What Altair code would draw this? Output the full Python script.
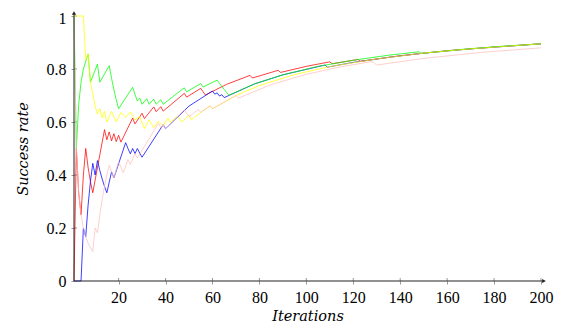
import altair as alt
import pandas as pd

# ---------------- data ----------------
red_x = [1, 2, 3, 4, 5, 6, 7, 8, 9, 14, 15, 16, 17, 18, 19, 20, 21, 26, 27, 30, 31, 35, 36, 38, 39,
         48, 49, 55, 56, 57, 66, 76, 77, 88, 89, 100, 110, 111, 122, 123, 140, 160, 180, 200]
red_y = [0, 0.5, 0.333, 0.25, 0.4, 0.5, 0.429, 0.375, 0.333, 0.571, 0.533, 0.5625, 0.529, 0.556, 0.526,
         0.55, 0.524, 0.615, 0.593, 0.633, 0.613, 0.657, 0.639, 0.658, 0.641, 0.708, 0.694, 0.727, 0.714,
         0.702, 0.742, 0.776, 0.766, 0.795, 0.787, 0.81, 0.827, 0.82, 0.836, 0.829, 0.85, 0.869, 0.883, 0.895]

green_x = [1, 2, 3, 4, 5, 7, 8, 11, 12, 16, 17, 18, 19, 20, 26, 27, 28, 29, 30, 32, 33, 35, 36, 38, 39,
           48, 49, 55, 56, 62, 63, 64, 65, 66, 67, 78, 90, 105, 120, 135, 148, 149, 165, 182, 200]
green_y = [1, 0.5, 0.667, 0.75, 0.8, 0.857, 0.75, 0.818, 0.75, 0.8125, 0.765, 0.722, 0.684, 0.65, 0.731,
           0.704, 0.679, 0.69, 0.667, 0.688, 0.667, 0.686, 0.667, 0.684, 0.667, 0.729, 0.714, 0.745, 0.732,
           0.758, 0.746, 0.734, 0.723, 0.712, 0.701, 0.744, 0.778, 0.81, 0.833, 0.852, 0.865, 0.859, 0.873,
           0.885, 0.895]

blue_x = [1, 4, 5, 6, 7, 8, 9, 10, 11, 12, 13, 14, 15, 17, 18, 23, 24, 25, 26, 27, 28, 29, 30, 39, 40,
          50, 60, 61, 62, 63, 64, 65, 78, 90, 108, 109, 120, 135, 150, 170, 200]
blue_y = [0, 0, 0.2, 0.167, 0.286, 0.375, 0.444, 0.4, 0.4545, 0.417, 0.385, 0.357, 0.333, 0.412, 0.389,
          0.522, 0.5, 0.48, 0.5, 0.481, 0.5, 0.483, 0.467, 0.59, 0.575, 0.66, 0.717, 0.705, 0.71, 0.698,
          0.703, 0.692, 0.744, 0.778, 0.815, 0.807, 0.825, 0.844, 0.86, 0.876, 0.895]

yellow_x = [1, 5, 6, 7, 8, 10, 11, 12, 13, 14, 15, 17, 19, 21, 23, 25, 27, 29, 31, 33, 35, 37, 39, 41,
            42, 45, 47, 50, 51, 55, 59, 60, 70, 80, 95, 110, 130, 150, 170, 200]
yellow_y = [1, 1, 0.833, 0.857, 0.75, 0.66, 0.63, 0.65, 0.615, 0.64, 0.6, 0.64, 0.6, 0.636, 0.617, 0.638,
            0.608, 0.62, 0.575, 0.608, 0.578, 0.603, 0.585, 0.615, 0.598, 0.622, 0.6, 0.626, 0.608, 0.636,
            0.661, 0.65, 0.7, 0.7375, 0.779, 0.809, 0.838, 0.86, 0.876, 0.895]

pink_x = [1, 2, 3, 4, 5, 6, 7, 8, 9, 10, 11, 12, 13, 14, 15, 16, 17, 18, 20, 21, 22, 24, 25, 27, 28,
          37, 38, 39, 40, 48, 49, 50, 54, 55, 59, 60, 70, 71, 85, 100, 115, 128, 129, 130, 150, 175, 200]
pink_y = [1, 0.5, 0.333, 0.25, 0.2, 0.167, 0.143, 0.125, 0.111, 0.2, 0.182, 0.25, 0.308, 0.357, 0.4,
          0.4375, 0.412, 0.389, 0.45, 0.429, 0.409, 0.458, 0.44, 0.481, 0.464, 0.595, 0.579, 0.59, 0.575,
          0.646, 0.633, 0.62, 0.648, 0.636, 0.661, 0.65, 0.7, 0.69, 0.741, 0.78, 0.809, 0.828, 0.822,
          0.815, 0.84, 0.863, 0.88]

x_ticks = [20, 40, 60, 80, 100, 120, 140, 160, 180, 200]
y_ticks = [0, 0.2, 0.4, 0.6, 0.8, 1]

# ---------------- chart ----------------
W, H = 467, 265
TOP = 8
LABEL_FONT = "Liberation Serif, DejaVu Serif, serif"
TITLE_FONT = "DejaVu Serif, Liberation Serif, serif"

x_scale = alt.Scale(domain=[1, 200], nice=False, zero=False)
y_scale = alt.Scale(domain=[0, 1], nice=False, zero=False)

x_axis = alt.Axis(values=x_ticks, domain=False, grid=False, tickSize=3, tickColor="#999",
                  labelFont=LABEL_FONT, labelFontSize=16, labelColor="#000", labelPadding=5,
                  labelFlush=False, labelOverlap=False,
                  title="Iterations", titleFont=TITLE_FONT, titleFontStyle="italic",
                  titleFontWeight="normal", titleFontSize=14.5, titleColor="#000",
                  titleY=28, titleBaseline="top")
y_axis = alt.Axis(values=y_ticks, domain=False, grid=False, tickSize=3, tickColor="#999",
                  labelFont=LABEL_FONT, labelFontSize=16, labelColor="#000", labelPadding=5,
                  labelFlush=False, labelOverlap=False, format="~g",
                  labelOffset={"condition": {"test": "datum.value === 1", "value": 2}, "value": 0},
                  title="Success rate", titleFont=TITLE_FONT, titleFontStyle="italic",
                  titleFontWeight="normal", titleFontSize=14.5, titleColor="#000",
                  titleX=-44, titleY=H / 2, titleAngle=-90, titleBaseline="bottom")

X = alt.X("it:Q", scale=x_scale, axis=x_axis)
Y = alt.Y("rate:Q", scale=y_scale, axis=y_axis)


def line(xs, ys, color):
    df = pd.DataFrame({"it": xs, "rate": ys})
    return alt.Chart(df).mark_line(color=color, strokeWidth=1, opacity=0.75).encode(x=X, y=Y)


layers = [
    line(red_x, red_y, "#ff0000"),
    line(blue_x, blue_y, "#0000ff"),
    line(green_x, green_y, "#00ff00"),
    line(yellow_x, yellow_y, "#ffff00"),
    line(pink_x, pink_y, "#ffbfbf"),
]

one = alt.Data(values=[{"k": 0}])
x_line = alt.Chart(one).mark_rule(color="#222", strokeWidth=1).encode(
    x=alt.value(0), x2=alt.value(W + 3), y=alt.value(H))
y_line = alt.Chart(one).mark_rule(color="#222", strokeWidth=1).encode(
    x=alt.value(0), y=alt.value(H), y2=alt.value(-3))
x_arrow = alt.Chart(one).mark_point(shape="triangle-right", filled=True, size=18,
                                    color="#222", opacity=1).encode(
    x=alt.value(W + 3), y=alt.value(H))
y_arrow = alt.Chart(one).mark_point(shape="triangle-up", filled=True, size=18,
                                    color="#222", opacity=1).encode(
    x=alt.value(0), y=alt.value(-3))

x_inner = alt.Chart(pd.DataFrame({"it": x_ticks})).mark_rule(color="#999", strokeWidth=1).encode(
    x=X, y=alt.value(H), y2=alt.value(H - 3))
y_inner = alt.Chart(pd.DataFrame({"rate": y_ticks[1:]})).mark_rule(color="#999", strokeWidth=1).encode(
    y=Y, x=alt.value(0), x2=alt.value(3))

chart = alt.layer(x_inner, y_inner, *layers, x_line, y_line, x_arrow, y_arrow).properties(
    width=W, height=H,
    autosize=alt.AutoSizeParams(type="none"),
    padding={"left": 66, "top": TOP, "right": 14, "bottom": 45},
).configure_view(stroke=None)

chart.save("out.html", embed_options={"renderer": "svg", "actions": False})
